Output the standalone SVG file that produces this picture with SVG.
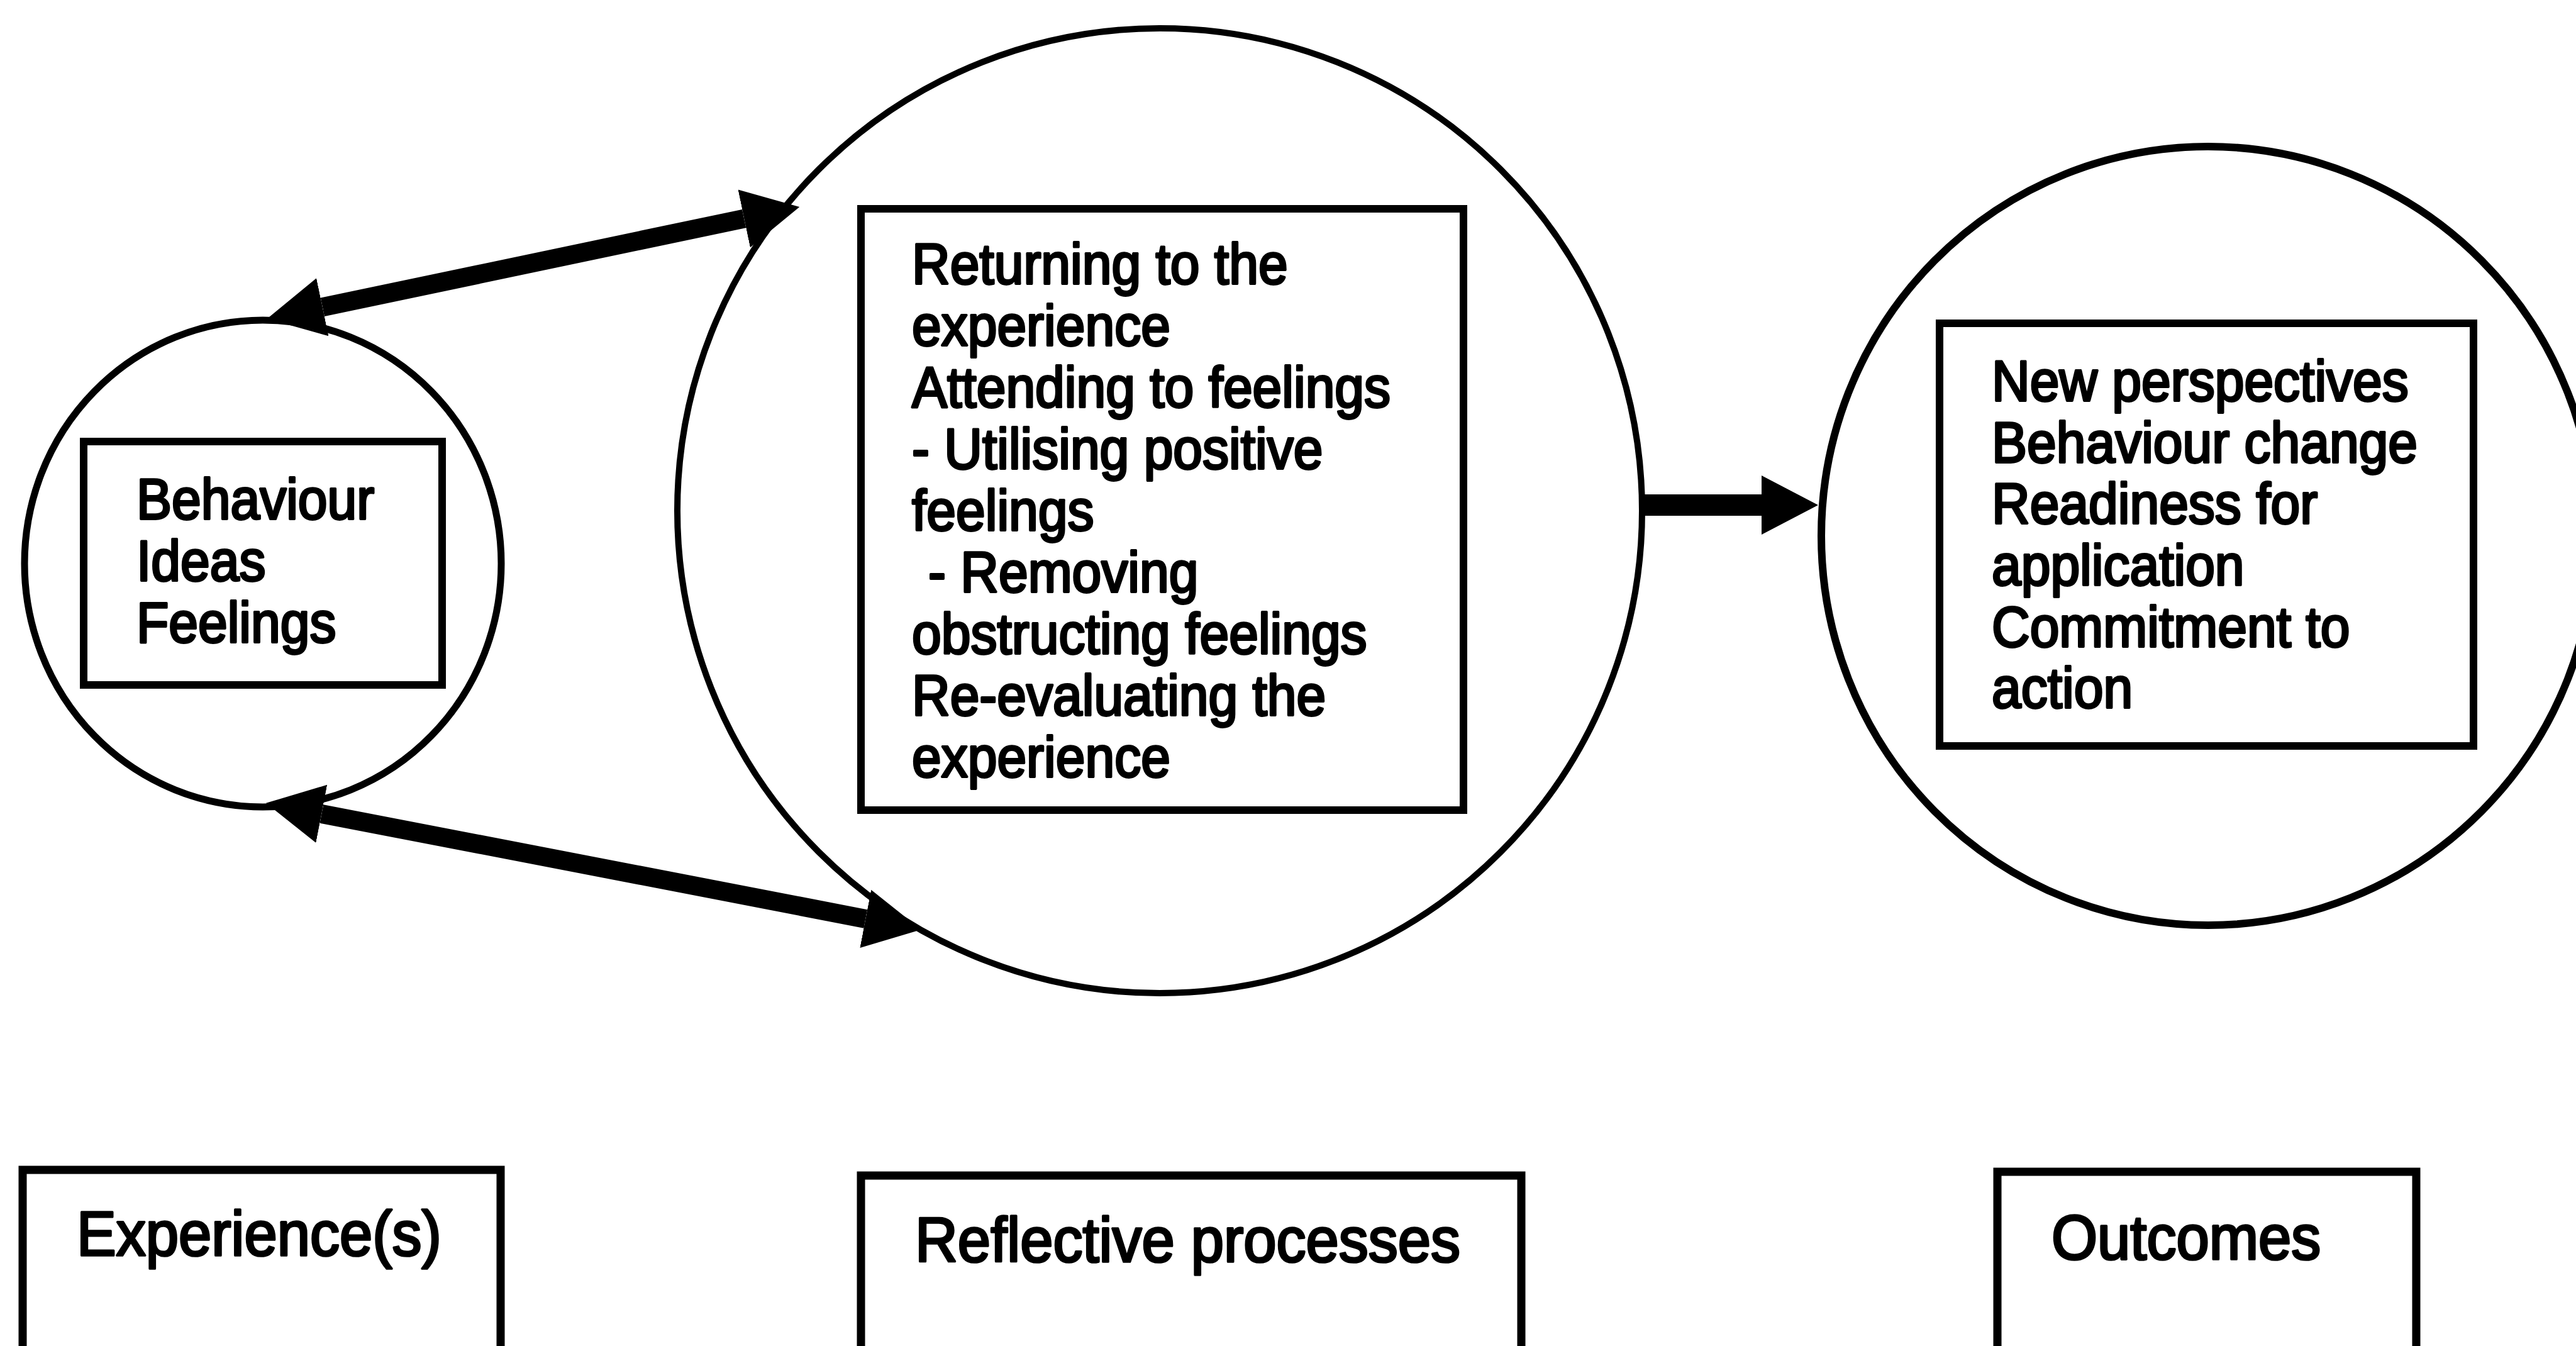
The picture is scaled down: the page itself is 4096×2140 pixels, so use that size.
<svg xmlns="http://www.w3.org/2000/svg" width="4096" height="2140" viewBox="0 0 4096 2140">
  <style>
    .ring { fill: none; stroke: #000; }
    .box { fill: none; stroke: #000; stroke-width: 12; }
    .tab { fill: none; stroke: #000; stroke-width: 13; }
    .lbl { font-family: "Liberation Sans", Arial, sans-serif; font-size: 84px; fill: #000; stroke: #000; stroke-width: 3.5; stroke-linejoin: round; }
    .cap { font-size: 94px; }
    .link { fill: none; stroke: #000; stroke-width: 30; }
  </style>
  <defs>
    <!-- filled triangular arrowhead; ref point sits at the head's base -->
    <marker id="head" markerUnits="userSpaceOnUse" viewBox="0 -50 100 100" refX="0" refY="0" markerWidth="100" markerHeight="100" orient="auto-start-reverse">
      <path d="M0,-47 L90,0 L0,47 Z" fill="#000"/>
    </marker>
  </defs>

  <rect width="4096" height="2140" fill="#fff"/>

  <!-- experience circle -->
  <g id="experience">
    <ellipse class="ring" cx="418" cy="896" rx="379" ry="387" stroke-width="11"/>
    <rect class="box" x="133" y="702" width="570" height="387"/>
    <g transform="translate(217,825) scale(1,1.08)">
      <text class="lbl">
        <tspan x="0" y="0">Behaviour</tspan>
        <tspan x="0" y="90.7">Ideas</tspan>
        <tspan x="0" y="181.5">Feelings</tspan>
      </text>
    </g>
  </g>

  <!-- reflective processes circle -->
  <g id="reflection">
    <circle class="ring" cx="1844" cy="812" r="767" stroke-width="10"/>
    <rect class="box" x="1369" y="332" width="958" height="956"/>
    <g transform="translate(1450,451) scale(1,1.08)">
      <text class="lbl">
        <tspan x="0" y="0">Returning to the</tspan>
        <tspan x="0" y="90.7">experience</tspan>
        <tspan x="0" y="181.5">Attending to feelings</tspan>
        <tspan x="0" y="272.2">- Utilising positive</tspan>
        <tspan x="0" y="363">feelings</tspan>
        <tspan x="26" y="453.7">- Removing</tspan>
        <tspan x="0" y="544.4">obstructing feelings</tspan>
        <tspan x="0" y="635.2">Re-evaluating the</tspan>
        <tspan x="0" y="725.9">experience</tspan>
      </text>
    </g>
  </g>

  <!-- outcomes circle (runs off the right edge) -->
  <g id="outcomes">
    <ellipse class="ring" cx="3511" cy="852" rx="615" ry="619" stroke-width="12"/>
    <rect class="box" x="3084" y="514" width="849" height="672"/>
    <g transform="translate(3167,637) scale(1,1.08)">
      <text class="lbl">
        <tspan x="0" y="0">New perspectives</tspan>
        <tspan x="0" y="90.5">Behaviour change</tspan>
        <tspan x="0" y="181">Readiness for</tspan>
        <tspan x="0" y="271.4">application</tspan>
        <tspan x="0" y="361.9">Commitment to</tspan>
        <tspan x="0" y="452.3">action</tspan>
      </text>
    </g>
  </g>

  <!-- column headings, boxes open at the bottom edge -->
  <g id="heading-experience">
    <path class="tab" d="M36,2160 V1860 H796 V2160"/>
    <g transform="translate(122,1996) scale(1,1.07)">
      <text class="lbl cap">Experience(s)</text>
    </g>
  </g>
  <g id="heading-reflection">
    <path class="tab" d="M1369,2160 V1869 H2419 V2160"/>
    <g transform="translate(1455,2006) scale(1,1.07)">
      <text class="lbl cap">Reflective processes</text>
    </g>
  </g>
  <g id="heading-outcomes">
    <path class="tab" d="M3176,2160 V1863 H3842 V2160"/>
    <g transform="translate(3262,2002) scale(1,1.07)">
      <text class="lbl cap">Outcomes</text>
    </g>
  </g>

  <!-- connectors -->
  <g id="connectors">
    <line class="link" x1="512.8" y1="488.3" x2="1183.2" y2="347.6" marker-start="url(#head)" marker-end="url(#head)"/>
    <line class="link" x1="511.3" y1="1293.9" x2="1376.3" y2="1460.9" marker-start="url(#head)" marker-end="url(#head)"/>
    <line class="link" x1="2607" y1="803" x2="2801" y2="803" style="stroke-width:34" marker-end="url(#head)"/>
  </g>
</svg>
